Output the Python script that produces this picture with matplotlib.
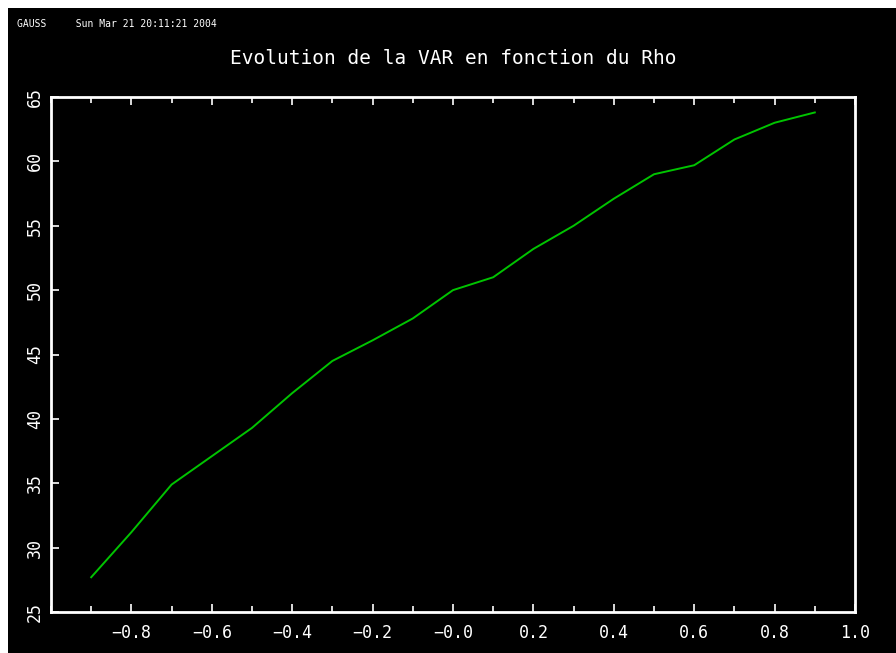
import matplotlib.pyplot as plt
from matplotlib.patches import Rectangle
from matplotlib.ticker import MultipleLocator

# Data
rho = [-0.9, -0.8, -0.7, -0.6, -0.5, -0.4, -0.3, -0.2, -0.1, 0.0,
       0.1, 0.2, 0.3, 0.4, 0.5, 0.6, 0.7, 0.8, 0.9]
var = [27.7, 31.2, 34.9, 37.1, 39.3, 42.0, 44.5, 46.1, 47.8, 50.0,
       51.0, 53.2, 55.0, 57.1, 59.0, 59.7, 61.7, 63.0, 63.8]
x_ticks = [-0.8, -0.6, -0.4, -0.2, 0.0, 0.2, 0.4, 0.6, 0.8, 1.0]
x_labels = ["\u22120.8", "\u22120.6", "\u22120.4", "\u22120.2", "\u22120.0",
            "0.2", "0.4", "0.6", "0.8", "1.0"]
y_ticks = [25, 30, 35, 40, 45, 50, 55, 60, 65]

title = "Evolution de la VAR en fonction du Rho"
stamp = "GAUSS     Sun Mar 21 20:11:21 2004"

plt.rcParams["font.family"] = "DejaVu Sans Mono"

fig = plt.figure(figsize=(8.96, 6.53), dpi=100, facecolor="white")

# black plotting page, leaving a thin white strip on the left and top
fig.patches.append(Rectangle((8 / 896, 0), 1, 1 - 8 / 653,
                             transform=fig.transFigure, facecolor="black",
                             edgecolor="none", zorder=-10))

ax = fig.add_axes([51 / 896, 1 - 612 / 653, 804 / 896, 515 / 653])
ax.set_facecolor("black")

ax.plot(rho, var, color="#00c400", linewidth=1.4)

ax.set_xlim(-1.0, 1.0)
ax.set_ylim(25, 65)
ax.set_xticks(x_ticks)
ax.set_xticklabels(x_labels)
ax.xaxis.set_minor_locator(MultipleLocator(0.1))
ax.set_yticks(y_ticks)
ax.set_yticklabels([str(v) for v in y_ticks], rotation=90, va="center")

for side in ax.spines.values():
    side.set_color("white")
    side.set_linewidth(2)

ax.tick_params(axis="x", which="both", direction="in", top=True,
               colors="white", labelsize=12, pad=9)
ax.tick_params(axis="x", which="major", length=6, width=1.2)
ax.tick_params(axis="x", which="minor", length=4, width=1.2)
ax.tick_params(axis="y", direction="in", length=6, width=1.2,
               colors="white", labelsize=12, pad=5)

fig.text(0.5055, 1 - 58 / 653, title, color="white", fontsize=14,
         ha="center", va="center")
fig.text(17 / 896, 1 - 24 / 653, stamp, color="white", fontsize=7,
         ha="left", va="center")

fig.savefig("out.png", dpi=100, facecolor=fig.get_facecolor())
